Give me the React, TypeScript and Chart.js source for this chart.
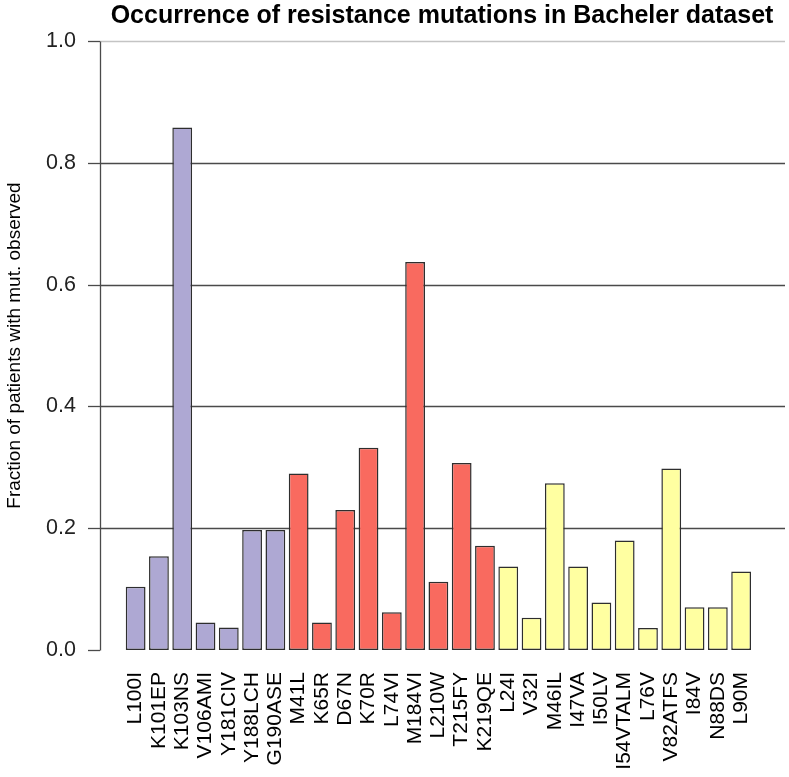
import React, { useEffect, useRef } from "react";
import { Chart, registerables } from "chart.js";

Chart.register(...registerables);

const chartTitle = "Occurrence of resistance mutations in Bacheler dataset";
const yAxisTitle = "Fraction of patients with mut. observed";

const mutations = [
  "L100I", "K101EP", "K103NS", "V106AMI", "Y181CIV", "Y188LCH", "G190ASE",
  "M41L", "K65R", "D67N", "K70R", "L74VI", "M184VI", "L210W", "T215FY", "K219QE",
  "L24I", "V32I", "M46IL", "I47VA", "I50LV", "I54VTALM", "L76V", "V82ATFS", "I84V", "N88DS", "L90M",
];

const fractions = [
  0.104, 0.154, 0.858, 0.045, 0.037, 0.197, 0.197,
  0.29, 0.045, 0.23, 0.332, 0.062, 0.637, 0.112, 0.307, 0.171,
  0.137, 0.053, 0.274, 0.137, 0.078, 0.18, 0.036, 0.298, 0.07, 0.07, 0.129,
];

const drugClass = [
  "NNRTI", "NNRTI", "NNRTI", "NNRTI", "NNRTI", "NNRTI", "NNRTI",
  "NRTI", "NRTI", "NRTI", "NRTI", "NRTI", "NRTI", "NRTI", "NRTI", "NRTI",
  "PI", "PI", "PI", "PI", "PI", "PI", "PI", "PI", "PI", "PI", "PI",
];

const yTicks = [0, 0.2, 0.4, 0.6, 0.8, 1.0];

const classColors: Record<string, string> = {
  NNRTI: "#AEA8D3",
  NRTI: "#F96A5F",
  PI: "#FFFFA1",
};

const AXIS_X = 100;
const GRID_RIGHT = 785;
const TITLE_LEFT = 100;
const TITLE_RIGHT = 784;
const FONT = "'Liberation Sans', Arial, Helvetica, sans-serif";

const rAxisPlugin = {
  id: "rAxis",
  afterLayout(chart: any) {
    const t = chart.titleBlock;
    if (t) {
      t.left = TITLE_LEFT;
      t.right = TITLE_RIGHT;
      t.width = TITLE_RIGHT - TITLE_LEFT;
    }
  },
  beforeDatasetsDraw(chart: any) {
    const y = chart.scales.y;
    const ctx = chart.ctx;
    ctx.save();
    ctx.lineWidth = 1.3;
    yTicks.forEach((v) => {
      if (v === 0) return;
      const py = Math.round(y.getPixelForValue(v)) + 0.5;
      ctx.strokeStyle = v === 1 ? "#c4c4c4" : "#4a4a4a";
      ctx.beginPath();
      ctx.moveTo(AXIS_X, py);
      ctx.lineTo(GRID_RIGHT, py);
      ctx.stroke();
    });
    ctx.strokeStyle = "#4a4a4a";
    ctx.beginPath();
    ctx.moveTo(AXIS_X + 0.5, Math.round(y.getPixelForValue(1)) + 0.5);
    ctx.lineTo(AXIS_X + 0.5, Math.round(y.getPixelForValue(0)) + 0.5);
    ctx.stroke();
    yTicks.forEach((v) => {
      const py = Math.round(y.getPixelForValue(v)) + 0.5;
      ctx.beginPath();
      ctx.moveTo(AXIS_X - 12, py);
      ctx.lineTo(AXIS_X, py);
      ctx.stroke();
    });
    ctx.restore();
  },
};

export default function App() {
  const canvasRef = useRef<HTMLCanvasElement | null>(null);

  useEffect(() => {
    const canvas = canvasRef.current;
    if (!canvas) return;
    const chart = new Chart(canvas, {
      type: "bar",
      data: {
        labels: mutations,
        datasets: [
          {
            data: fractions,
            backgroundColor: drugClass.map((c) => classColors[c]),
            borderColor: "#2e2e2e",
            borderWidth: 1.5,
            borderSkipped: false,
            barPercentage: 0.85,
            categoryPercentage: 1,
          },
        ],
      },
      options: {
        responsive: false,
        animation: false,
        devicePixelRatio: 1,
        layout: { padding: { left: 0, right: 27, top: 0, bottom: 0 } },
        plugins: {
          legend: { display: false },
          tooltip: { enabled: false },
          title: {
            display: true,
            text: chartTitle,
            fullSize: false,
            color: "#000",
            font: { family: FONT, size: 25, weight: "bold", lineHeight: 1.2 },
            padding: { top: 1, bottom: 10 },
          },
        },
        scales: {
          x: {
            type: "category",
            offset: true,
            grid: { display: false, drawTicks: false },
            border: { display: false },
            ticks: {
              autoSkip: false,
              maxRotation: 90,
              minRotation: 90,
              padding: 22,
              color: "#000",
              font: { family: FONT, size: 21 },
            },
            afterFit: (scale: any) => {
              scale.height = 127;
            },
          },
          y: {
            type: "linear",
            min: 0,
            max: 1,
            grid: { display: false, drawTicks: false },
            border: { display: false },
            afterBuildTicks: (scale: any) => {
              scale.ticks = yTicks.map((v) => ({ value: v }));
            },
            ticks: {
              padding: 48,
              color: "#222",
              font: { family: FONT, size: 21.5 },
              callback: (v: any) => Number(v).toFixed(1),
            },
            title: {
              display: true,
              text: yAxisTitle,
              color: "#000",
              font: { family: FONT, size: 19 },
              padding: { top: 3, bottom: 0 },
            },
            afterFit: (scale: any) => {
              scale.width = 124;
              scale.paddingTop = 0;
              scale.paddingBottom = 0;
            },
          },
        },
      },
      plugins: [rAxisPlugin],
    });
    return () => chart.destroy();
  }, []);

  return (
    <div style={{ position: "absolute", left: 0, top: 0, width: 789, height: 777, background: "#fff" }}>
      <canvas ref={canvasRef} width={789} height={777} />
    </div>
  );
}
